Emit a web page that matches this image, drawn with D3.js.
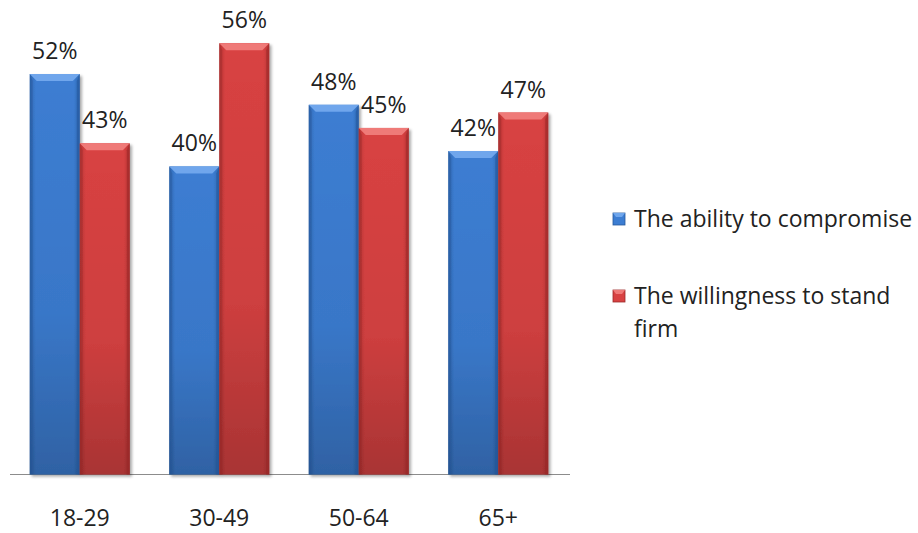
<!DOCTYPE html>
<html><head><meta charset="utf-8">
<script src="https://cdn.jsdelivr.net/npm/d3@7/dist/d3.min.js"></script>
<style>body{margin:0;background:#fff;}svg{display:block;}</style>
</head><body>
<svg id="chart" width="918" height="533"></svg>
<script>
const categories = ["18-29", "30-49", "50-64", "65+"];
const seriesNames = ["The ability to compromise", "The willingness to stand firm"];
const compromise = [52, 40, 48, 42];
const standFirm = [43, 56, 45, 47];

const svg = d3.select("#chart");
const FONT = "'Open Sans', sans-serif";
const FS = 23;
const baseY = 474.5;
const x = d3.scaleBand().domain(categories).range([10, 568]).paddingInner(0.283).paddingOuter(0.1415);
const xs = d3.scaleBand().domain([0, 1]).range([0, x.bandwidth()]).padding(0);
const y = d3.scaleLinear().domain([0, 52]).range([baseY, 74]);

const colors = [
  {main: "#3c7dd2", light: "#6fa6ec", dark: "#27599c", side: "#2f68b2"},
  {main: "#d84242", light: "#ef7a78", dark: "#9c2a2a", side: "#b83434"}
];
const defs = svg.append("defs");
colors.forEach((c, i) => {
  const g = defs.append("linearGradient").attr("id", "g" + i).attr("x1", 0).attr("x2", 1).attr("y1", 0).attr("y2", 0);
  g.append("stop").attr("offset", "0").attr("stop-color", c.side);
  g.append("stop").attr("offset", "0.12").attr("stop-color", c.main);
  g.append("stop").attr("offset", "0.88").attr("stop-color", c.main);
  g.append("stop").attr("offset", "1").attr("stop-color", c.side);
  const v = defs.append("linearGradient").attr("id", "v" + i).attr("x1", 0).attr("x2", 0).attr("y1", 0).attr("y2", 1);
  v.append("stop").attr("offset", "0").attr("stop-color", "#000").attr("stop-opacity", 0);
  v.append("stop").attr("offset", "0.6").attr("stop-color", "#000").attr("stop-opacity", 0.05);
  v.append("stop").attr("offset", "1").attr("stop-color", "#000").attr("stop-opacity", 0.22);
});
const f = defs.append("filter").attr("id", "sh").attr("x", "-20%").attr("y", "-20%").attr("width", "140%").attr("height", "140%");
f.append("feGaussianBlur").attr("in", "SourceAlpha").attr("stdDeviation", 1.5);
f.append("feOffset").attr("dx", 1.5).attr("dy", 1.5).attr("result", "o");
f.append("feComponentTransfer").append("feFuncA").attr("type", "linear").attr("slope", 0.35);
const fm = f.append("feMerge"); fm.append("feMergeNode"); fm.append("feMergeNode").attr("in", "SourceGraphic");

svg.append("line").attr("x1", 10).attr("x2", 570).attr("y1", baseY).attr("y2", baseY)
  .attr("stroke", "#8c8c8c").attr("stroke-width", 1);

const series = [compromise, standFirm];
const bev = 7;
series.forEach((vals, si) => {
  const c = colors[si];
  const g = svg.append("g");
  categories.forEach((cat, ci) => {
    const x0 = x(cat) + xs(si), w = xs.bandwidth(), yt = y(vals[ci]), h = baseY - yt;
    const bg = g.append("g").attr("filter", "url(#sh)");
    bg.append("rect").attr("x", x0).attr("y", yt).attr("width", w).attr("height", h).attr("fill", `url(#g${si})`);
    bg.append("rect").attr("x", x0).attr("y", yt).attr("width", w).attr("height", h).attr("fill", `url(#v${si})`);
    bg.append("polygon").attr("points", [[x0, yt], [x0 + w, yt], [x0 + w - bev, yt + bev], [x0 + bev, yt + bev]].map(p => p.join(",")).join(" "))
      .attr("fill", c.light);
    bg.append("polygon").attr("points", [[x0, yt], [x0 + 3, yt + bev], [x0 + 3, baseY], [x0, baseY]].map(p => p.join(",")).join(" "))
      .attr("fill", c.dark).attr("opacity", 0.45);
    bg.append("polygon").attr("points", [[x0 + w, yt], [x0 + w - 3, yt + bev], [x0 + w - 3, baseY], [x0 + w, baseY]].map(p => p.join(",")).join(" "))
      .attr("fill", c.dark).attr("opacity", 0.6);
    svg.append("text").attr("x", x0 + w / 2).attr("y", yt - 15).attr("text-anchor", "middle")
      .attr("font-family", FONT).attr("font-size", FS).attr("fill", "#222").text(vals[ci] + "%");
  });
});

categories.forEach(cat => {
  svg.append("text").attr("x", x(cat) + x.bandwidth() / 2).attr("y", 526).attr("text-anchor", "middle")
    .attr("font-family", FONT).attr("font-size", FS).attr("fill", "#222").text(cat);
});

const legY = [219, 296];
const legLines = [["The ability to compromise"], ["The willingness to stand", "firm"]];
seriesNames.forEach((name, i) => {
  const c = colors[i];
  const lg = svg.append("g");
  lg.append("rect").attr("x", 613).attr("y", legY[i] - 6).attr("width", 12).attr("height", 12).attr("fill", c.main).attr("stroke", c.dark).attr("stroke-width", 0.8);
  lg.append("polygon").attr("points", `613,${legY[i]-6} 625,${legY[i]-6} 622,${legY[i]-2} 616,${legY[i]-2}`).attr("fill", c.light);
  const t = lg.append("text").attr("x", 634).attr("y", legY[i] + 8).attr("font-family", FONT).attr("font-size", FS).attr("fill", "#222");
  legLines[i].forEach((ln, li) => t.append("tspan").attr("x", 634).attr("dy", li === 0 ? 0 : 33).text(ln));
});
</script>
</body></html>
